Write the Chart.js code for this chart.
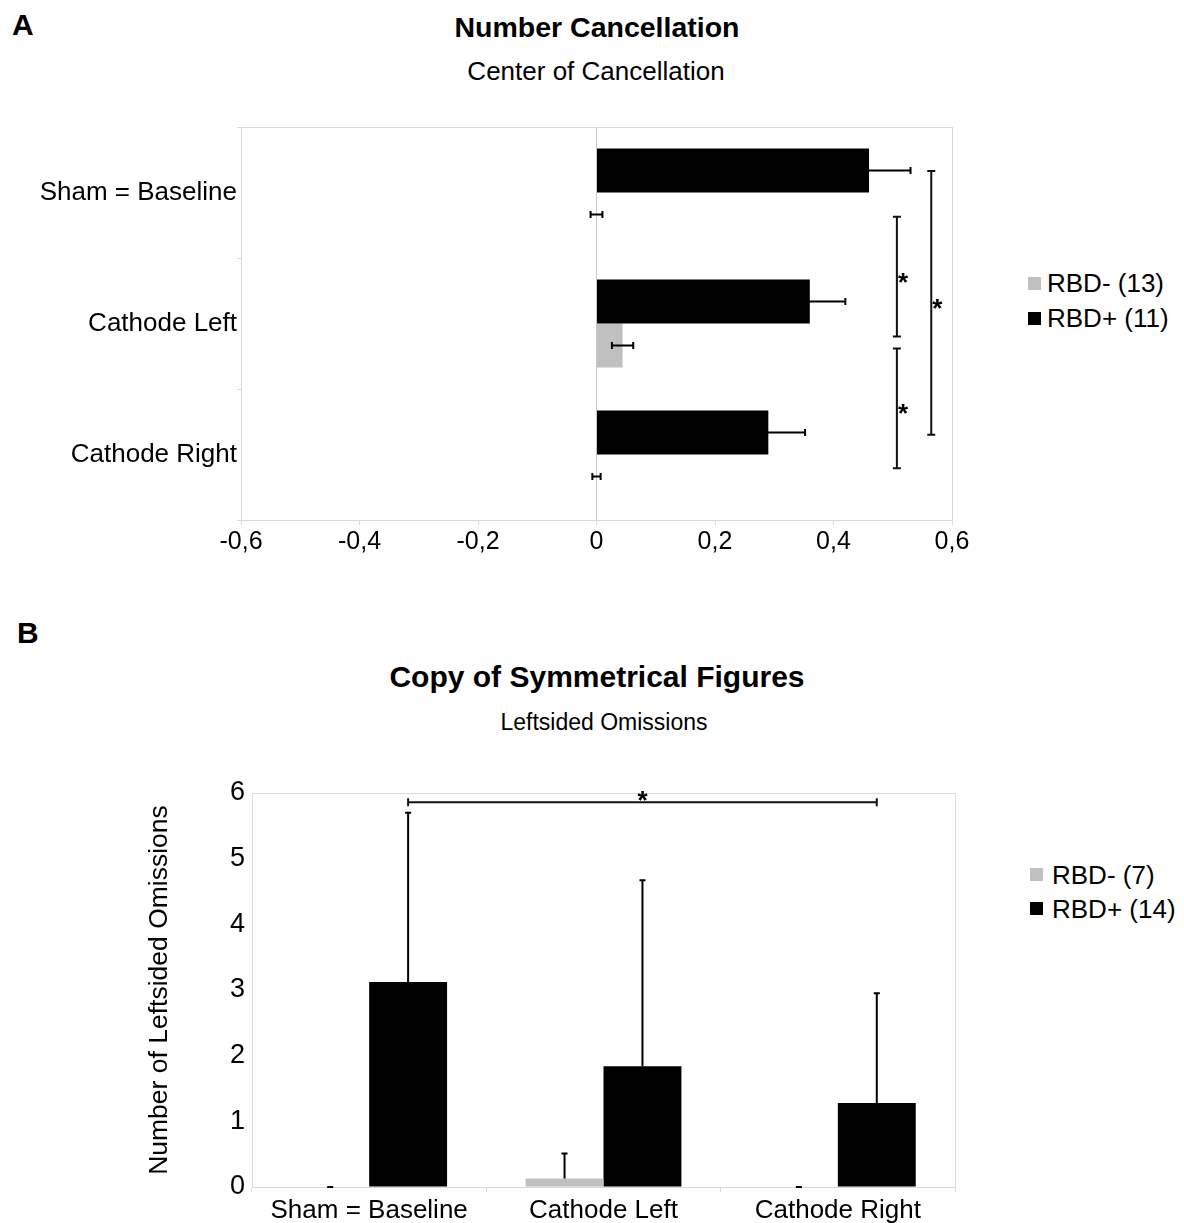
<!DOCTYPE html>
<html>
<head>
<meta charset="utf-8">
<script src="https://cdn.jsdelivr.net/npm/chart.js@4.4.1/dist/chart.umd.min.js"></script>
<style>
  body { margin: 0; background: #fff; font-family: "Liberation Sans", Arial, sans-serif; color: #000; }
  #page { position: relative; width: 1184px; height: 1223px; overflow: hidden; background: #fff; }
  .abs { position: absolute; white-space: nowrap; line-height: 1; }
  .panel { font-weight: bold; font-size: 30px; }
  .title { font-weight: bold; transform: translateX(-50%); }
  .sub { transform: translateX(-50%); }
  .leg { font-size: 26px; }
  .sw { position: absolute; width: 13px; height: 13px; }
  canvas { position: absolute; left: 0; }
</style>
</head>
<body>
<div id="page">
  <div class="abs panel" style="left:12px; top:10px;">A</div>
  <div class="abs title" style="left:597px; top:13px; font-size:28.5px;">Number Cancellation</div>
  <div class="abs sub" style="left:596px; top:58px; font-size:26px;">Center of Cancellation</div>

  <div class="abs leg" style="left:1047px; top:270px;">RBD- (13)</div>
  <div class="sw" style="left:1028px; top:277px; background:#c0c0c0;"></div>
  <div class="abs leg" style="left:1047px; top:305px;">RBD+ (11)</div>
  <div class="sw" style="left:1028px; top:312px; background:#000;"></div>

  <div class="abs panel" style="left:17px; top:618px;">B</div>
  <div class="abs title" style="left:597px; top:662px; font-size:30px;">Copy of Symmetrical Figures</div>
  <div class="abs sub" style="left:604px; top:711px; font-size:23px;">Leftsided Omissions</div>

  <div class="abs leg" style="left:1052px; top:862px;">RBD- (7)</div>
  <div class="sw" style="left:1030px; top:868px; background:#c0c0c0;"></div>
  <div class="abs leg" style="left:1052px; top:896px;">RBD+ (14)</div>
  <div class="sw" style="left:1030px; top:902px; background:#000;"></div>

  <canvas id="chartA" width="1184" height="580" style="top:0px;"></canvas>
  <canvas id="chartB" width="1184" height="623" style="top:600px;"></canvas>
</div>

<script>
// ---- panel A: Number Cancellation, center of cancellation ----
const aCategories = ['Sham = Baseline', 'Cathode Left', 'Cathode Right'];
const aRbdPlus = [0.46, 0.36, 0.29];
const aRbdPlusErr = [0.07, 0.06, 0.062];
const aRbdMinus = [0, 0.044, 0];
const aRbdMinusErr = [0.01, 0.018, 0.007];
// significance brackets: value on x axis, from/to as category index
const aSigX = [0.507, 0.507, 0.565];
const aSigFrom = [0.185, 1.19, -0.165];
const aSigTo = [1.10, 2.105, 1.85];

// ---- panel B: Copy of Symmetrical Figures, leftsided omissions ----
const bCategories = ['Sham = Baseline', 'Cathode Left', 'Cathode Right'];
const bRbdMinus = [0, 0.13, 0];
const bRbdMinusErr = [0, 0.38, 0];
const bRbdPlus = [3.12, 1.84, 1.28];
const bRbdPlusErr = [2.58, 2.83, 1.67];
const bSigLevel = 5.86;
const bSigFrom = 0;
const bSigTo = 2;

const GRAY = '#c0c0c0';
const FRAME = '#d9d9d9';
const FONT = '"Liberation Sans", Arial, sans-serif';

Chart.defaults.font.family = FONT;
Chart.defaults.color = '#000';

// light frame around the plot area
const frame = {
  id: 'frame',
  beforeDatasetsDraw(chart) {
    const a = chart.chartArea, ctx = chart.ctx;
    ctx.save();
    ctx.strokeStyle = FRAME;
    ctx.lineWidth = 1;
    ctx.strokeRect(Math.round(a.left) + 0.5, Math.round(a.top) + 0.5,
      Math.round(a.right - a.left), Math.round(a.bottom - a.top));
    ctx.restore();
  }
};

// error bars, read from dataset.errors
const errorBars = {
  id: 'errorBars',
  afterDatasetsDraw(chart, args, opts) {
    const ctx = chart.ctx;
    const horiz = chart.options.indexAxis === 'y';
    const vScale = horiz ? chart.scales.x : chart.scales.y;
    const cap = opts.cap || 3;
    ctx.save();
    ctx.strokeStyle = '#000';
    ctx.lineWidth = 2;
    chart.data.datasets.forEach((ds, di) => {
      const meta = chart.getDatasetMeta(di);
      meta.data.forEach((bar, i) => {
        const v = ds.data[i], e = ds.errors[i];
        const hi = vScale.getPixelForValue(v + e);
        const lo = vScale.getPixelForValue(opts.both ? v - e : v);
        ctx.beginPath();
        if (horiz) {
          ctx.moveTo(lo, bar.y); ctx.lineTo(hi, bar.y);
          ctx.moveTo(hi, bar.y - cap); ctx.lineTo(hi, bar.y + cap);
          if (opts.both) { ctx.moveTo(lo, bar.y - cap); ctx.lineTo(lo, bar.y + cap); }
        } else {
          ctx.moveTo(bar.x, lo); ctx.lineTo(bar.x, hi);
          ctx.moveTo(bar.x - cap, hi); ctx.lineTo(bar.x + cap, hi);
        }
        ctx.stroke();
      });
    });
    ctx.restore();
  }
};

function catPixel(scale, f) {
  const p0 = scale.getPixelForValue(0), p1 = scale.getPixelForValue(1);
  return p0 + f * (p1 - p0);
}

const bracketsA = {
  id: 'bracketsA',
  afterDatasetsDraw(chart) {
    const ctx = chart.ctx, xs = chart.scales.x, ys = chart.scales.y;
    ctx.save();
    ctx.strokeStyle = '#111';
    ctx.lineWidth = 2;
    ctx.fillStyle = '#000';
    ctx.font = 'bold 26px ' + FONT;
    ctx.textAlign = 'left';
    ctx.textBaseline = 'alphabetic';
    aSigX.forEach((v, k) => {
      const x = xs.getPixelForValue(v);
      const y1 = catPixel(ys, aSigFrom[k]), y2 = catPixel(ys, aSigTo[k]);
      ctx.beginPath();
      ctx.moveTo(x, y1); ctx.lineTo(x, y2);
      ctx.moveTo(x - 4, y1); ctx.lineTo(x + 4, y1);
      ctx.moveTo(x - 4, y2); ctx.lineTo(x + 4, y2);
      ctx.stroke();
      ctx.fillText('*', x + 1, (y1 + y2) / 2 + 14);
    });
    ctx.restore();
  }
};

const bracketB = {
  id: 'bracketB',
  afterDatasetsDraw(chart) {
    const ctx = chart.ctx, ys = chart.scales.y;
    const meta = chart.getDatasetMeta(1);
    const x1 = meta.data[bSigFrom].x, x2 = meta.data[bSigTo].x;
    const y = ys.getPixelForValue(bSigLevel);
    ctx.save();
    ctx.strokeStyle = '#111';
    ctx.lineWidth = 2;
    ctx.beginPath();
    ctx.moveTo(x1, y); ctx.lineTo(x2, y);
    ctx.moveTo(x1, y - 4); ctx.lineTo(x1, y + 4);
    ctx.moveTo(x2, y - 4); ctx.lineTo(x2, y + 4);
    ctx.stroke();
    ctx.fillStyle = '#000';
    ctx.font = 'bold 26px ' + FONT;
    ctx.textAlign = 'center';
    ctx.textBaseline = 'alphabetic';
    ctx.fillText('*', (x1 + x2) / 2, y + 7);
    ctx.restore();
  }
};

new Chart(document.getElementById('chartA'), {
  type: 'bar',
  data: {
    labels: aCategories,
    datasets: [
      { label: 'RBD+ (11)', data: aRbdPlus, errors: aRbdPlusErr, backgroundColor: '#000' },
      { label: 'RBD- (13)', data: aRbdMinus, errors: aRbdMinusErr, backgroundColor: GRAY }
    ]
  },
  options: {
    indexAxis: 'y',
    responsive: false,
    animation: false,
    categoryPercentage: 0.67,
    barPercentage: 1.0,
    layout: { padding: { left: 0, top: 127, right: 232, bottom: 0 } },
    plugins: {
      legend: { display: false },
      tooltip: { enabled: false },
      errorBars: { both: true, cap: 3.5 }
    },
    scales: {
      x: {
        min: -0.6, max: 0.6,
        ticks: {
          stepSize: 0.2, padding: 2,
          font: { size: 25 },
          callback: v => (Math.round(v * 10) / 10).toString().replace('.', ',')
        },
        grid: {
          color: c => (c.tick && Math.abs(c.tick.value) < 1e-9) ? '#c8c8c8' : 'rgba(0,0,0,0)',
          tickColor: FRAME, tickLength: 5
        },
        border: { color: FRAME },
        afterFit: s => { s.height = 60; }
      },
      y: {
        ticks: { padding: 0, font: { size: 26 } },
        grid: { offset: true, drawOnChartArea: false, tickLength: 4, tickColor: FRAME },
        border: { color: FRAME },
        afterFit: s => { s.width = 241; }
      }
    }
  },
  plugins: [frame, errorBars, bracketsA]
});

new Chart(document.getElementById('chartB'), {
  type: 'bar',
  data: {
    labels: bCategories,
    datasets: [
      { label: 'RBD- (7)', data: bRbdMinus, errors: bRbdMinusErr, backgroundColor: GRAY },
      { label: 'RBD+ (14)', data: bRbdPlus, errors: bRbdPlusErr, backgroundColor: '#000' }
    ]
  },
  options: {
    responsive: false,
    animation: false,
    categoryPercentage: 0.665,
    barPercentage: 1.0,
    layout: { padding: { left: 144, top: 193, right: 229, bottom: 0 } },
    plugins: {
      legend: { display: false },
      tooltip: { enabled: false },
      errorBars: { both: false, cap: 3 }
    },
    scales: {
      x: {
        ticks: { padding: 3, font: { size: 26 } },
        grid: { offset: true, drawOnChartArea: false, tickLength: 5, tickColor: FRAME },
        border: { color: FRAME },
        afterFit: s => { s.height = 36; }
      },
      y: {
        min: 0, max: 6,
        ticks: { stepSize: 1, padding: 7, font: { size: 27 } },
        grid: { drawOnChartArea: false, drawTicks: false },
        border: { color: FRAME },
        title: {
          display: true, text: 'Number of Leftsided Omissions',
          font: { size: 26.5 }, padding: { top: 0, bottom: 0 }
        },
        afterFit: s => { s.width = 108; }
      }
    }
  },
  plugins: [frame, errorBars, bracketB]
});
</script>
</body>
</html>
